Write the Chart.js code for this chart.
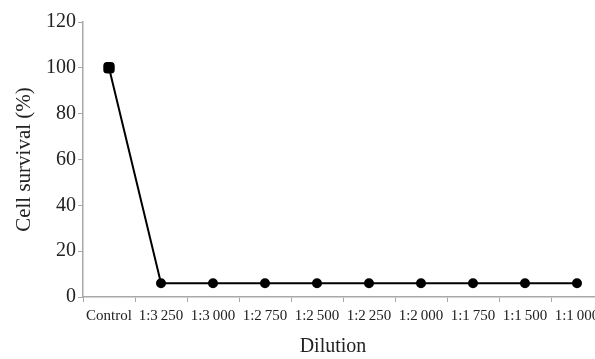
<!DOCTYPE html>
<html>
<head>
<meta charset="utf-8">
<script src="https://cdn.jsdelivr.net/npm/chart.js@4"></script>
<style>
  html, body { margin: 0; padding: 0; background: #ffffff; overflow: hidden; }
  /* the figure is cropped on the right, like the original */
  #wrap { width: 595px; height: 359px; overflow: hidden; }
</style>
</head>
<body>
<div id="wrap"><canvas id="survivalChart" width="603" height="359"></canvas></div>
<script>
// dilution categories and cell survival values
const dilutions = ['Control', '1:3\u2009250', '1:3\u2009000', '1:2\u2009750', '1:2\u2009500',
                   '1:2\u2009250', '1:2\u2009000', '1:1\u2009750', '1:1\u2009500', '1:1\u2009000'];
const survival = [100, 6, 6, 6, 6, 6, 6, 6, 6, 6];
const yTicks = [0, 20, 40, 60, 80, 100, 120];

const serif = "'Liberation Serif', 'DejaVu Serif', serif";
const axisGrey = '#a8a8a8';

const ctx = document.getElementById('survivalChart').getContext('2d');
new Chart(ctx, {
    type: 'line',
    data: {
        labels: dilutions,
        datasets: [{
            data: survival,
            borderColor: '#000000',
            backgroundColor: '#000000',
            borderWidth: 2,
            tension: 0,
            pointStyle: survival.map((v, i) => i === 0 ? 'rectRounded' : 'circle'),
            pointRadius: survival.map((v, i) => i === 0 ? 5.5 : 4),
            pointBackgroundColor: '#000000',
            pointBorderColor: '#000000'
        }]
    },
    options: {
        responsive: false,
        animation: false,
        layout: { autoPadding: false, padding: { top: 22, right: 0, left: 0, bottom: 0 } },
        plugins: { legend: { display: false }, tooltip: { enabled: false } },
        scales: {
            x: {
                offset: true,
                afterFit: axis => {
                    axis.height = 62;
                    axis.paddingLeft = 0;
                    axis.paddingRight = 0;
                },
                grid: {
                    offset: true,
                    drawOnChartArea: false,
                    tickLength: 5,
                    color: axisGrey
                },
                border: { color: axisGrey, width: 1.5 },
                ticks: {
                    autoSkip: false,
                    maxRotation: 0,
                    padding: 5,
                    color: '#222222',
                    font: { family: serif, size: 15 }
                },
                title: {
                    display: true,
                    text: 'Dilution\u00a0\u00a0\u00a0\u00a0',
                    color: '#222222',
                    font: { family: serif, size: 20 },
                    padding: { top: 10, bottom: 0 }
                }
            },
            y: {
                min: 0,
                max: 120,
                afterBuildTicks: axis => { axis.ticks = yTicks.map(v => ({ value: v })); },
                afterFit: axis => {
                    axis.width = 83;
                    axis.paddingTop = 0;
                    axis.paddingBottom = 0;
                },
                grid: {
                    drawOnChartArea: false,
                    tickLength: 5,
                    color: axisGrey
                },
                border: { color: axisGrey, width: 1.5 },
                ticks: {
                    padding: 2,
                    color: '#222222',
                    font: { family: serif, size: 20 }
                },
                title: {
                    display: true,
                    text: 'Cell survival (%)',
                    color: '#222222',
                    font: { family: serif, size: 21 },
                    padding: { top: 12, bottom: 0 }
                }
            }
        }
    }
});
</script>
</body>
</html>
